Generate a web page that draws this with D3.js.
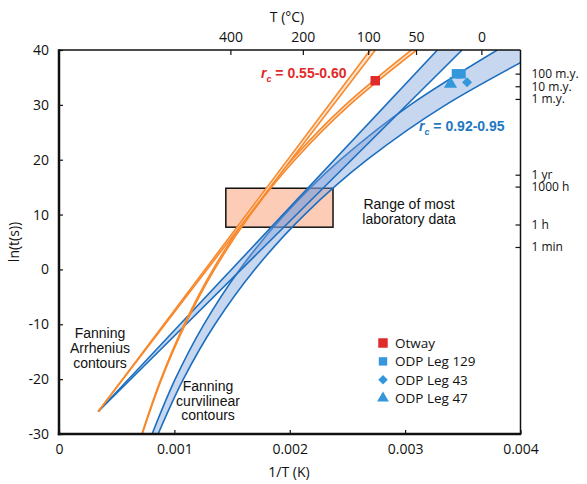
<!DOCTYPE html>
<html><head><meta charset="utf-8">
<script src="https://cdn.jsdelivr.net/npm/d3@7"></script>
<style>body{margin:0;background:#fff}svg{display:block}</style>
</head><body>
<svg id="c" width="587" height="484"></svg>
<script>
// ---- data ----
const lnLevels = [-30, -20, -10, 0, 10, 20, 30, 40];          // ln(t) sample levels for curvilinear contours
const orangeCurvA = [0.000718, 0.000883, 0.001085, 0.001335, 0.001642, 0.002019, 0.002483, 0.003054];
const orangeCurvB = [0.000722, 0.000889, 0.001095, 0.001348, 0.001660, 0.002045, 0.002519, 0.003100];
const blueCurvA   = [0.000807, 0.001007, 0.001256, 0.001567, 0.001956, 0.002440, 0.003045, 0.003799];
const blueCurvB   = [0.000859, 0.001078, 0.001352, 0.001697, 0.002129, 0.002671, 0.003352, 0.004206];
const arrOrigin = [0.00034, -25.9];                            // fan point of Arrhenius contours
const arrTopLn = 40;
const orangeArrTop = [0.002698, 0.002742];
const blueArrTop   = [0.003280, 0.003494];
const labBoxX = [0.001446, 0.002375];
const labBoxY = [7.7, 14.8];
const otway  = [[0.002741, 34.4]];
const odp129 = [[0.003445, 35.66], [0.003484, 35.66]];
const odp43  = [[0.003537, 34.13]];
const odp47  = [[0.003393, 33.8]];
const xTicks = [0, 0.001, 0.002, 0.003, 0.004];
const xTickLabels = ["0", "0.001", "0.002", "0.003", "0.004"];
const yTicks = [40, 30, 20, 10, 0, -10, -20, -30];
const yTickLabels = ["40", "30", "20", "10", "0", "-10", "-20", "-30"];
const topTicksC = [400, 200, 100, 50, 0];
const rightTickLabels = ["100 m.y.", "10 m.y.", "1 m.y.", "1 yr", "1000 h", "1 h", "1 min"];
const rightTickValues = [35.69, 33.39, 31.08, 17.27, 15.10, 8.19, 4.09];
const legendNames = ["Otway", "ODP Leg 129", "ODP Leg 43", "ODP Leg 47"];

// ---- setup ----
const svg = d3.select("#c");
const L = 59, R = 520.5, T = 50, B = 434;
const x = d3.scaleLinear().domain([0, 0.004]).range([L, R]);
const y = d3.scaleLinear().domain([-30, 40]).range([B, T]);
const BLUE = "#1c6fbf", ORANGE = "#f7892c", RED = "#e02b2b", MBLUE = "#3497db";
const sans = "'Open Sans', sans-serif", arial = "'Liberation Sans', Arial, sans-serif";

svg.append("defs").append("clipPath").attr("id", "clip")
  .append("rect").attr("x", L).attr("y", T).attr("width", R - L).attr("height", B - T);
const g = svg.append("g").attr("clip-path", "url(#clip)");

// lab data box
g.append("rect")
  .attr("x", x(labBoxX[0])).attr("y", y(labBoxY[1]))
  .attr("width", x(labBoxX[1]) - x(labBoxX[0])).attr("height", y(labBoxY[0]) - y(labBoxY[1]))
  .attr("fill", "#fdccb7").attr("stroke", "#111").attr("stroke-width", 1.5);

function band(xa, xb, levels, color, fill, fop, sw, curve) {
  const pts = levels.map((v, i) => ({ y: v, a: xa[i], b: xb[i] }));
  const area = d3.area().y(d => y(d.y)).x0(d => x(d.a)).x1(d => x(d.b)).curve(curve);
  g.append("path").datum(pts).attr("d", area).attr("fill", fill).attr("fill-opacity", fop).attr("stroke", "none");
  [ "a", "b" ].forEach(k => {
    const line = d3.line().y(d => y(d.y)).x(d => x(d[k])).curve(curve);
    g.append("path").datum(pts).attr("d", line).attr("fill", "none")
      .attr("stroke", color).attr("stroke-width", sw);
  });
}
const arrLevels = [arrOrigin[1], arrTopLn];
// blue contours
band(blueCurvA, blueCurvB, lnLevels, BLUE, "#7b9fdc", 0.42, 1.6, d3.curveMonotoneY);
band([arrOrigin[0], blueArrTop[0]], [arrOrigin[0], blueArrTop[1]], arrLevels, BLUE, "#7b9fdc", 0.42, 1.6, d3.curveLinear);
// orange contours
band(orangeCurvA, orangeCurvB, lnLevels, ORANGE, "#fde4cf", 1, 1.6, d3.curveMonotoneY);
band([arrOrigin[0], orangeArrTop[0]], [arrOrigin[0], orangeArrTop[1]], arrLevels, ORANGE, "#fde4cf", 1, 1.6, d3.curveLinear);

// data points
const sq = d3.symbol().type(d3.symbolSquare).size(90);
const tri = d3.symbol().type(d3.symbolTriangle).size(75);
const dia = d3.symbol().type(d3.symbolSquare).size(50);   // rotated 45° below
function pts(data, sym, color, rot) {
  svg.selectAll(null).data(data).enter().append("path")
    .attr("d", sym).attr("fill", color)
    .attr("transform", d => `translate(${x(d[0])},${y(d[1])}) rotate(${rot || 0})`);
}
pts(otway, sq, RED);
pts(odp129, sq, MBLUE);
pts(odp43, dia, MBLUE, 45);
pts(odp47, tri, MBLUE);

// axes
const xb = d3.axisBottom(x).tickValues(xTicks).tickSize(-4).tickFormat((d, i) => xTickLabels[i]).tickPadding(10);
const gx = svg.append("g").attr("transform", `translate(0,${B})`).call(xb);
const yl = d3.axisLeft(y).tickValues(yTicks).tickSize(-4).tickFormat((d, i) => yTickLabels[i]).tickPadding(10);
const gy = svg.append("g").attr("transform", `translate(${L},0)`).call(yl);
const xt = d3.axisTop(x).tickValues(topTicksC.map(c => 1 / (c + 273.15))).tickSize(-5)
  .tickFormat((d, i) => String(topTicksC[i])).tickPadding(8);
const gt = svg.append("g").attr("transform", `translate(0,${T})`).call(xt);
const yr = d3.axisRight(y).tickValues(rightTickValues).tickSize(-5)
  .tickFormat((d, i) => rightTickLabels[i]).tickPadding(11);
const gr = svg.append("g").attr("transform", `translate(${R},0)`).call(yr);
[gx, gy, gt, gr].forEach(a => {
  a.attr("font-family", sans).attr("font-size", 14);
  a.selectAll("text").attr("fill", "#111");
  a.selectAll(".tick line").attr("stroke", "#111").attr("stroke-width", 1.2);
  a.select(".domain").remove();
});
gr.attr("font-size", 12);
// frame
svg.append("line").attr("x1", L).attr("x2", R).attr("y1", T).attr("y2", T).attr("stroke", "#111").attr("stroke-width", 1.5);
svg.append("line").attr("x1", R).attr("x2", R).attr("y1", T).attr("y2", B).attr("stroke", "#111").attr("stroke-width", 1.5);
svg.append("line").attr("x1", L).attr("x2", L).attr("y1", T - 0.75).attr("y2", B + 1.2).attr("stroke", "#111").attr("stroke-width", 2.5);
svg.append("line").attr("x1", L - 1.2).attr("x2", R + 0.75).attr("y1", B).attr("y2", B).attr("stroke", "#111").attr("stroke-width", 2.5);

// axis titles
svg.append("text").attr("x", 287).attr("y", 22).attr("text-anchor", "middle")
  .attr("font-family", sans).attr("font-size", 14).attr("fill", "#111").text("T (°C)");
svg.append("text").attr("x", 289).attr("y", 477).attr("text-anchor", "middle")
  .attr("font-family", sans).attr("font-size", 14).attr("fill", "#111").text("1/T (K)");
svg.append("text").attr("transform", "translate(19,242) rotate(-90)").attr("text-anchor", "middle")
  .attr("font-family", sans).attr("font-size", 14).attr("fill", "#111").text("ln(t(s))");

// annotations
function multi(lines, cx, cy0, dy, anchor) {
  const t = svg.append("text").attr("font-family", arial).attr("font-size", 14).attr("fill", "#111")
    .attr("text-anchor", anchor);
  lines.forEach((s, i) => t.append("tspan").attr("x", cx).attr("y", cy0 + i * dy).text(s));
}
multi(["Fanning", "Arrhenius", "contours"], 100, 338, 15, "middle");
multi(["Fanning", "curvilinear", "contours"], 208, 391, 14.5, "middle");
multi(["Range of most", "laboratory data"], 409, 209, 15, "middle");

function rc(xp, yp, color, txt) {
  const t = svg.append("text").attr("x", xp).attr("y", yp).attr("font-family", arial)
    .attr("font-size", 14).attr("font-weight", "bold").attr("fill", color);
  t.append("tspan").attr("font-style", "italic").text("r");
  t.append("tspan").attr("font-style", "italic").attr("font-size", 9).attr("dy", 4).text("c");
  t.append("tspan").attr("dy", -4).text(" = " + txt);
}
rc(261, 78, RED, "0.55-0.60");
rc(419, 131, "#1f78c1", "0.92-0.95");

// legend
const lg = svg.append("g").attr("transform", "translate(383,343)");
const legSyms = [[sq, RED, 0], [d3.symbol().type(d3.symbolSquare).size(70), MBLUE, 0],
                 [d3.symbol().type(d3.symbolSquare).size(45), MBLUE, 45], [d3.symbol().type(d3.symbolTriangle).size(60), MBLUE, 0]];
legendNames.forEach((n, i) => {
  lg.append("path").attr("d", legSyms[i][0]).attr("fill", legSyms[i][1])
    .attr("transform", `translate(0,${i * 18.4}) rotate(${legSyms[i][2]})`);
  lg.append("text").attr("x", 12).attr("y", i * 18.4).attr("dy", "0.35em")
    .attr("font-family", sans).attr("font-size", 13.5).attr("fill", "#111").text(n);
});
</script>
</body></html>
